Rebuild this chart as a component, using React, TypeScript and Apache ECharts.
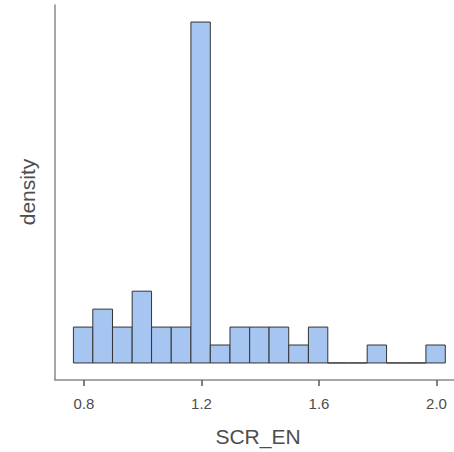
import React, { useEffect, useRef } from "react";
import * as echarts from "echarts";

const binEdges = [0.764, 0.830, 0.897, 0.964, 1.030, 1.097, 1.164, 1.230, 1.297, 1.364, 1.430, 1.497, 1.564, 1.630, 1.697, 1.764, 1.830, 1.897, 1.964, 2.030];
const counts = [2, 3, 2, 4, 2, 2, 19, 1, 2, 2, 2, 1, 2, 0, 0, 1, 0, 0, 1];
const xTicks = [0.8, 1.2, 1.6, 2.0];
const xLabel = "SCR_EN";
const yLabel = "density";

export default function App() {
  const ref = useRef<HTMLDivElement>(null);
  useEffect(() => {
    if (!ref.current) return;
    const chart = echarts.init(ref.current, undefined, { renderer: "svg" });
    const data = counts.map((c, i) => [binEdges[i], binEdges[i + 1], c]);
    chart.setOption({
      animation: false,
      grid: { left: 55, right: 0, top: 5, bottom: 72, containLabel: false },
      xAxis: {
        type: "value",
        min: 0.7013,
        max: 2.0596,
        axisLine: { show: true, onZero: false, lineStyle: { color: "#8a8a8a", width: 1.5 } },
        axisTick: { show: true, customValues: xTicks, length: 6, lineStyle: { color: "#555", width: 1.5 } },
        axisLabel: {
          customValues: xTicks,
          color: "#4d4d4d",
          fontSize: 15,
          fontFamily: "Liberation Sans",
          margin: 16,
          formatter: (v: number) => v.toFixed(1),
        },
        splitLine: { show: false },
      },
      yAxis: {
        type: "value",
        min: -0.95,
        max: 19.95,
        axisLine: { show: true, onZero: false, lineStyle: { color: "#8a8a8a", width: 1.5 } },
        axisTick: { show: false },
        axisLabel: { show: false },
        splitLine: { show: false },
      },
      graphic: [
        {
          type: "text",
          x: 258,
          y: 436,
          style: { text: xLabel, fill: "#4d4d4d", fontSize: 21, fontFamily: "Liberation Sans", align: "center", verticalAlign: "middle" },
        },
        {
          type: "text",
          x: 27,
          y: 192,
          rotation: Math.PI / 2,
          style: { text: yLabel, fill: "#4d4d4d", fontSize: 21, fontFamily: "Liberation Sans", align: "center", verticalAlign: "middle" },
        },
      ],
      series: [
        {
          type: "custom",
          data,
          renderItem: (params: any, api: any) => {
            const p0 = api.coord([api.value(0), 0]);
            const p1 = api.coord([api.value(1), api.value(2)]);
            return {
              type: "rect",
              shape: { x: p0[0], y: p1[1], width: p1[0] - p0[0], height: p0[1] - p1[1] },
              style: { fill: "#a6c5f1", stroke: "#333333", lineWidth: 1 },
            };
          },
        },
      ],
    });
    return () => chart.dispose();
  }, []);
  return <div ref={ref} style={{ width: 454, height: 452, position: "absolute", left: 0, top: 0 }} />;
}
